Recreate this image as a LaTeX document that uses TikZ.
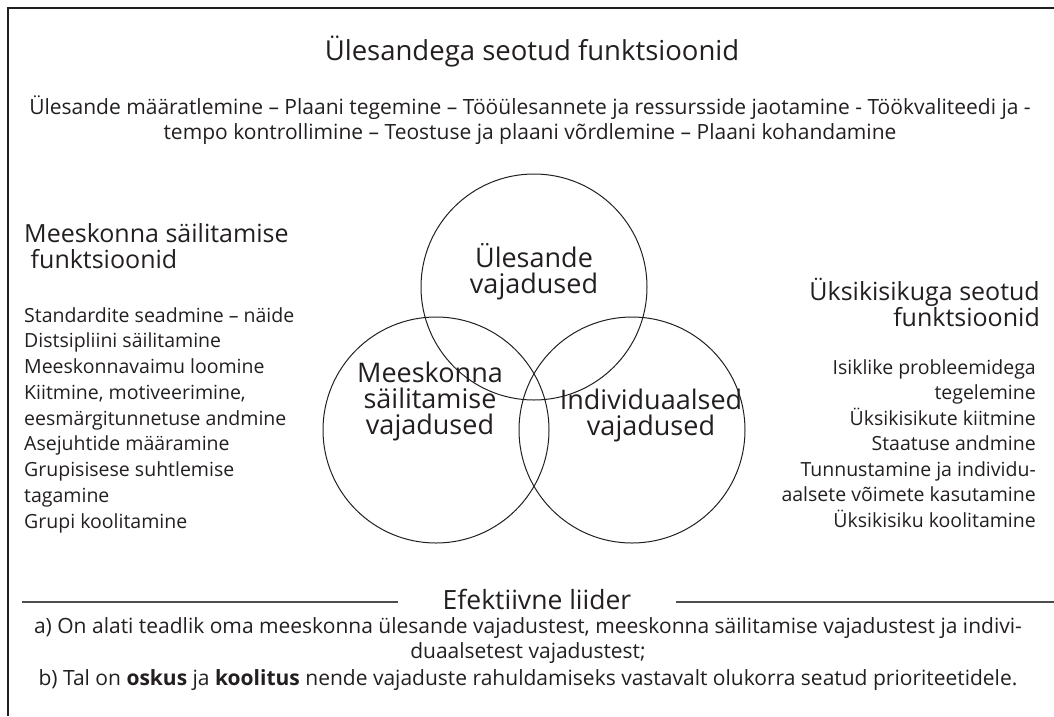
\documentclass[tikz,border=0pt]{standalone}
\usepackage{fontspec}
\setmainfont{Open Sans}
\definecolor{ink}{HTML}{231F20}
\begin{document}
\begin{tikzpicture}[x=1pt,y=-1pt,
  txt/.style={inner sep=0pt,text=ink,font=\fontsize{19.5}{23}\selectfont},
  para/.style={inner sep=0pt,text=ink,font=\fontsize{21}{24}\selectfont},
  head/.style={inner sep=0pt,text=ink,font=\fontsize{25}{29}\selectfont},
  ctxt/.style={inner sep=0pt,text=ink,font=\fontsize{27}{31}\selectfont},
  venn/.style={draw=ink,line width=1pt,circle,minimum size=226pt,inner sep=0pt},
  rule/.style={draw=ink!80,line width=1.2pt}]
\useasboundingbox (0,0) rectangle (1054,716);
\draw[draw=ink,line width=1.2pt] (8,716) -- (8,8) -- (1054,8);
% title
\node[inner sep=0pt,text=ink,font=\fontsize{27.5}{31}\selectfont,anchor=base] (title) at (532,60) {Ülesandega seotud funktsioonid};
\node[para,anchor=base] (p1) at (530,114) {Ülesande määratlemine – Plaani tegemine – Tööülesannete ja ressursside jaotamine - Töökvaliteedi ja -};
\node[para,anchor=base] (p2) at (530,139) {tempo kontrollimine – Teostuse ja plaani võrdlemine – Plaani kohandamine};
% circles
\node[venn] (ct) at (534,287) {};
\node[venn] (cl) at (436,430) {};
\node[venn] (cr) at (632,430) {};
\node[ctxt,anchor=base] (ct1) at (534,267) {Ülesande};
\node[ctxt,anchor=base] (ct2) at (534,293) {vajadused};
\node[ctxt,anchor=base] (cl1) at (430,382) {Meeskonna};
\node[ctxt,anchor=base] (cl2) at (430,408) {säilitamise};
\node[ctxt,anchor=base] (cl3) at (430,434) {vajadused};
\node[ctxt,anchor=base] (cr1) at (651,409) {Individuaalsed};
\node[ctxt,anchor=base] (cr2) at (651,435) {vajadused};
% left block
\node[head,anchor=base west] (lh1) at (24,242) {Meeskonna säilitamise};
\node[head,anchor=base west] (lh2) at (24,268) {\ funktsioonid};
\foreach \t [count=\i from 0] in {Standardite seadmine – näide,Distsipliini säilitamine,Meeskonnavaimu loomine,{Kiitmine, motiveerimine,},eesmärgitunnetuse andmine,Asejuhtide määramine,Grupisisese suhtlemise,tagamine,Grupi koolitamine}
  \node[txt,anchor=base west] (ll\i) at (24,{322+\i*25.75}) {\t};
% right block
\node[head,anchor=base east] (rh1) at (1040,300) {Üksikisikuga seotud};
\node[head,anchor=base east] (rh2) at (1040,326) {funktsioonid};
\foreach \t [count=\i from 0] in {Isiklike probleemidega,tegelemine,Üksikisikute kiitmine,Staatuse andmine,Tunnustamine ja individu-,aalsete võimete kasutamine,Üksikisiku koolitamine}
  \node[txt,anchor=base east] (rl\i) at (1036,{374+\i*25.5}) {\t};
% bottom
\node[inner sep=0pt,text=ink,font=\fontsize{26.5}{30}\selectfont,anchor=base] (eff) at (537,609) {Efektiivne liider};
\coordinate (la) at (22,602);
\coordinate (lb) at (398,602);
\coordinate (ra) at (676,602);
\coordinate (rb) at (1054,602);
\draw[rule] (la) -- (lb);
\draw[rule] (ra) -- (rb);
\node[para,anchor=base] (b1) at (528,633) {a) On alati teadlik oma meeskonna ülesande vajadustest, meeskonna säilitamise vajadustest ja indivi-};
\node[para,anchor=base] (b2) at (528,658) {duaalsetest vajadustest;};
\node[para,anchor=base] (b3) at (528,685) {b) Tal on \textbf{oskus} ja \textbf{koolitus} nende vajaduste rahuldamiseks vastavalt olukorra seatud prioriteetidele.};
\end{tikzpicture}
\end{document}
